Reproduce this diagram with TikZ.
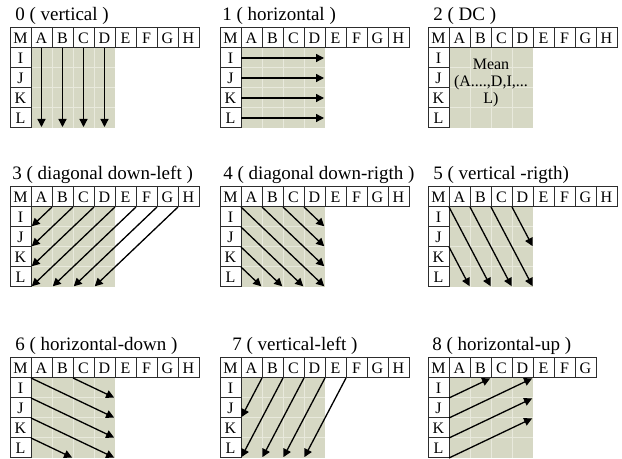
\documentclass[tikz,border=0pt]{standalone}
\usepackage{fontspec}
\setmainfont{Liberation Serif}
\usetikzlibrary{arrows.meta}
\definecolor{blockfill}{RGB}{214,216,196}
\definecolor{blockline}{RGB}{232,233,220}
\definecolor{cellline}{RGB}{45,45,45}

\begin{document}
\begin{tikzpicture}[
  x=0.5pt, y=-0.5pt,
  gridcell/.style={x=10.5pt, y=-10pt},
  cellbox/.style={draw=cellline, line width=0.5pt, fill=white},
  celltext/.style={inner sep=0pt, text height=5.3pt, text depth=0pt, font=\fontsize{8}{9}\selectfont},
  titletext/.style={anchor=base west, inner sep=0pt, font=\fontsize{9.5}{11}\selectfont},
  predarrow/.style={line width=0.65pt, shorten >=0.5pt, -{Triangle[length=4pt,width=4pt]}},
]
\useasboundingbox (0,0) rectangle (622,459);

%%GRIDS
\foreach \p/\gx/\gy/\tx/\cols/\ttl in {
  0/10/28/5/{M,A,B,C,D,E,F,G,H}/{0 ( vertical )},
  1/220/28/2/{M,A,B,C,D,E,F,G,H}/{1 ( horizontal )},
  2/428/28/5/{M,A,B,C,D,E,F,G,H}/{2 ( DC )},
  3/10/187/2/{M,A,B,C,D,E,F,G,H}/{3 ( diagonal down-left )},
  4/220/187/3/{M,A,B,C,D,E,F,G,H}/{4 ( diagonal down-rigth )},
  5/428/187/5/{M,A,B,C,D,E,F,G,H}/{5 ( vertical -rigth)},
  6/10/358/5/{M,A,B,C,D,E,F,G,H}/{6 ( horizontal-down )},
  7/220/358/12/{M,A,B,C,D,E,F,G,H}/{7 ( vertical-left )},
  8/428/358/4/{M,A,B,C,D,E,F,G}/{8 ( horizontal-up )}}
{
  \node[titletext] (title\p) at (\gx+\tx,\gy-7) {\ttl};
  \begin{scope}[shift={(\gx,\gy)}, gridcell]
    \fill[blockfill] (1,1) rectangle (5,5);
    \foreach \k in {2,3,4} {
      \draw[blockline, line width=0.5pt] (\k,1) -- (\k,5);
      \draw[blockline, line width=0.5pt] (1,\k) -- (5,\k);
    }
    \foreach \l [count=\i from 0] in \cols {
      \draw[cellbox] (\i,0) rectangle +(1,1);
      \node[celltext] (p\p-\l) at (\i+0.5,0.5) {\l};
    }
    \foreach \l [count=\i from 1] in {I,J,K,L} {
      \draw[cellbox] (0,\i) rectangle +(1,1);
      \node[celltext] (p\p-\l) at (0.5,\i+0.5) {\l};
    }
  \end{scope}
}

%%0 VERTICAL
\begin{scope}[shift={(10,28)}, gridcell]
  \foreach \c in {1.5,2.5,3.5,4.5} \draw[predarrow] (\c,1) -- (\c,5);
\end{scope}

%%1 HORIZONTAL
\begin{scope}[shift={(220,28)}, gridcell]
  \foreach \r in {1.5,2.5,3.5,4.5} \draw[predarrow] (1,\r) -- (5,\r);
\end{scope}

%%2 DC
\begin{scope}[shift={(428,28)}, gridcell]
  \node[align=center, inner sep=0pt, font=\fontsize{8}{8.5}\selectfont] (mean) at (3,2.75) {Mean\\(A....,D,I,...\\L)};
\end{scope}

%%3 DIAGONAL DOWN-LEFT
\begin{scope}[shift={(10,187)}, gridcell]
  \foreach \k in {2,3,4,5} \draw[predarrow] (\k,1) -- (1,\k);
  \foreach \k in {6,7,8} \draw[predarrow] (\k,1) -- (\k-4,5);
\end{scope}

%%4 DIAGONAL DOWN-RIGHT
\begin{scope}[shift={(220,187)}, gridcell]
  \foreach \k in {1,2,3,4} \draw[predarrow] (\k,1) -- (5,6-\k);
  \foreach \k in {2,3,4} \draw[predarrow] (1,\k) -- (6-\k,5);
\end{scope}

%%5 VERTICAL-RIGHT
\begin{scope}[shift={(428,187)}, gridcell]
  \foreach \k in {1,2,3} \draw[predarrow] (\k,1) -- (\k+2,5);
  \draw[predarrow] (4,1) -- (5,3);
  \draw[predarrow] (1,3) -- (2,5);
\end{scope}

%%6 HORIZONTAL-DOWN
\begin{scope}[shift={(10,358)}, gridcell]
  \draw[predarrow] (1,1) -- (5,3);
  \draw[predarrow] (3,1) -- (5,2);
  \draw[predarrow] (1,2) -- (5,4);
  \draw[predarrow] (1,3) -- (5,5);
  \draw[predarrow] (1,4) -- (3,5);
\end{scope}

%%7 VERTICAL-LEFT
\begin{scope}[shift={(220,358)}, gridcell]
  \draw[predarrow] (2,1) -- (1,3);
  \foreach \k in {3,4,5,6} \draw[predarrow] (\k,1) -- (\k-2,5);
\end{scope}

%%8 HORIZONTAL-UP
\begin{scope}[shift={(428,358)}, gridcell]
  \draw[predarrow] (1,2) -- (3,1);
  \foreach \k in {3,4,5} \draw[predarrow] (1,\k) -- (5,\k-2);
\end{scope}

\end{tikzpicture}
\end{document}
